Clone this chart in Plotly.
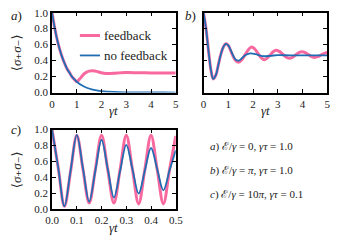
import plotly.graph_objects as go

# ---------------- data ----------------
# panel a
t_a_nf = [0, 0.1, 0.2, 0.3, 0.4, 0.5, 0.6, 0.7, 0.8, 0.9, 1.0, 1.2, 1.4, 1.6, 1.8, 2.0, 2.5, 3.0, 3.5, 4.0, 4.5, 5.0]
a_nofb = [1.0, 0.82, 0.67, 0.55, 0.45, 0.37, 0.30, 0.25, 0.20, 0.165, 0.135, 0.09, 0.06, 0.04, 0.027, 0.018, 0.007, 0.0025, 0.001, 0.0003, 0.0001, 0.0]
t_a_fb = [0, 0.1, 0.2, 0.3, 0.4, 0.5, 0.6, 0.7, 0.8, 0.9, 1.0, 1.1, 1.2, 1.3, 1.4, 1.5, 1.65, 1.8, 1.95, 2.1, 2.25, 2.5, 2.75, 3.0, 3.5, 4.0, 4.5, 5.0]
a_fb = [1.0, 0.82, 0.67, 0.55, 0.45, 0.37, 0.30, 0.25, 0.20, 0.165, 0.135, 0.165, 0.20, 0.235, 0.255, 0.268, 0.272, 0.265, 0.25, 0.24, 0.237, 0.24, 0.246, 0.25, 0.248, 0.246, 0.245, 0.245]

# panel b
t_b_nf = [0, 0.1, 0.2, 0.3, 0.39, 0.5, 0.6, 0.7, 0.8, 0.9, 1.0, 1.1, 1.2, 1.3, 1.42, 1.55, 1.7, 1.9, 2.1, 2.4, 2.7, 3.0, 3.5, 4.0, 4.5, 5.0]
b_nofb = [1.0, 0.80, 0.52, 0.28, 0.17, 0.22, 0.35, 0.48, 0.57, 0.61, 0.59, 0.53, 0.46, 0.41, 0.40, 0.43, 0.47, 0.49, 0.48, 0.455, 0.46, 0.468, 0.465, 0.465, 0.465, 0.465]
t_b_fb = [0, 0.1, 0.2, 0.3, 0.39, 0.5, 0.6, 0.7, 0.8, 0.9, 1.0, 1.1, 1.2, 1.3, 1.42, 1.55, 1.68, 1.82, 1.94, 2.07, 2.2, 2.33, 2.45, 2.57, 2.69, 2.81, 2.93, 3.06, 3.2, 3.33, 3.46, 3.59, 3.72, 3.85, 3.98, 4.11, 4.24, 4.37, 4.5, 4.62, 4.75, 4.88, 5.0]
b_fb = [1.0, 0.80, 0.52, 0.28, 0.17, 0.22, 0.35, 0.48, 0.57, 0.61, 0.59, 0.52, 0.45, 0.40, 0.38, 0.41, 0.475, 0.54, 0.57, 0.545, 0.49, 0.435, 0.41, 0.43, 0.47, 0.51, 0.53, 0.515, 0.48, 0.445, 0.43, 0.44, 0.47, 0.50, 0.51, 0.50, 0.475, 0.45, 0.44, 0.45, 0.47, 0.49, 0.50]

# panel c
t_c = [0, 0.025, 0.05, 0.075, 0.1, 0.125, 0.15, 0.175, 0.2, 0.225, 0.25, 0.275, 0.3, 0.325, 0.35, 0.375, 0.4, 0.425, 0.45, 0.475, 0.5]
c_fb = [1.0, 0.52, 0.04, 0.48, 0.93, 0.50, 0.08, 0.50, 0.93, 0.50, 0.08, 0.50, 0.93, 0.50, 0.07, 0.50, 0.93, 0.50, 0.07, 0.50, 0.92]
c_nofb = [1.0, 0.52, 0.04, 0.49, 0.93, 0.515, 0.10, 0.485, 0.87, 0.51, 0.15, 0.48, 0.81, 0.505, 0.20, 0.485, 0.77, 0.505, 0.24, 0.49, 0.74]

series_names = ["feedback", "no feedback"]
x_ticks_ab = [0, 1, 2, 3, 4, 5]
x_ticks_c = [0.0, 0.1, 0.2, 0.3, 0.4, 0.5]
x_ticklabels_c = ["0.0", "0.1", "0.2", "0.3", "0.4", "0.5"]
y_ticks = [0.0, 0.2, 0.4, 0.6, 0.8, 1.0]
y_ticklabels = ["0.0", "0.2", "0.4", "0.6", "0.8", "1.0"]

PINK = "#f7699f"
BLUE = "#1f6db3"
FONT = "Liberation Serif, DejaVu Serif, serif"
TXT = "#222"

W, H = 340, 244
fig = go.Figure()

def add(x, y, color, width, xa, ya, name=None):
    fig.add_trace(go.Scatter(x=x, y=y, mode="lines", line=dict(color=color, width=width, shape="spline", smoothing=1.0),
                             xaxis=xa, yaxis=ya, name=name, showlegend=False, hoverinfo="skip"))

add(t_a_fb, a_fb, PINK, 3, "x", "y", series_names[0])
add(t_a_nf, a_nofb, BLUE, 1.8, "x", "y", series_names[1])
add(t_b_fb, b_fb, PINK, 3, "x2", "y2", series_names[0])
add(t_b_nf, b_nofb, BLUE, 1.8, "x2", "y2", series_names[1])
add(t_c, c_fb, PINK, 3, "x3", "y3", series_names[0])
add(t_c, c_nofb, BLUE, 1.8, "x3", "y3", series_names[1])

def px(xp):
    return xp / W

def py(yp):
    return 1 - yp / H

axcommon = dict(showgrid=False, zeroline=False, showline=True, linecolor="black", linewidth=1.6,
                mirror="ticks", ticks="inside", ticklen=4, tickwidth=1, tickcolor="black",
                ticklabeloverflow="allow",
                tickfont=dict(family=FONT, size=11, color=TXT))

fig.update_layout(
    width=W, height=H, margin=dict(l=0, r=0, t=0, b=0),
    paper_bgcolor="white", plot_bgcolor="white", showlegend=False,
    xaxis=dict(domain=[px(47), px(176)], range=[0, 5], tickvals=x_ticks_ab, anchor="y", **axcommon),
    yaxis=dict(domain=[py(91), py(7)], range=[0, 1], tickvals=y_ticks, ticktext=y_ticklabels, anchor="x", **axcommon),
    xaxis2=dict(domain=[px(205), px(334)], range=[0, 5], tickvals=x_ticks_ab, anchor="y2", **axcommon),
    yaxis2=dict(domain=[py(91), py(7)], range=[0, 1], tickvals=y_ticks, showticklabels=False, anchor="x2", **axcommon),
    xaxis3=dict(domain=[px(47), px(176)], range=[0, 0.5], tickvals=x_ticks_c, ticktext=x_ticklabels_c, anchor="y3", **axcommon),
    yaxis3=dict(domain=[py(214), py(130)], range=[0, 1], tickvals=y_ticks, ticktext=y_ticklabels, anchor="x3", **axcommon),
)

# legend (drawn by hand to match the short line samples)
shapes = [
    dict(type="line", xref="paper", yref="paper", x0=px(76), x1=px(97), y0=py(31), y1=py(31),
         line=dict(color=PINK, width=3)),
    dict(type="line", xref="paper", yref="paper", x0=px(76), x1=px(97), y0=py(52), y1=py(52),
         line=dict(color=BLUE, width=1.8)),
]
fig.update_layout(shapes=shapes)

ann = []
def note(x, y, text, size=10, angle=0, xanchor="center", yanchor="middle"):
    ann.append(dict(x=px(x), y=py(y), xref="paper", yref="paper", text=text, showarrow=False,
                    font=dict(family=FONT, size=size, color=TXT), textangle=angle,
                    xanchor=xanchor, yanchor=yanchor))

note(99, 31, series_names[0], 13, xanchor="left")
note(99, 52, series_names[1], 13, xanchor="left")
ylab = "⟨<i>σ</i>₊<i>σ</i>₋⟩"
note(10, 49, ylab, 13, -90)
note(10, 172, ylab, 13, -90)
note(111, 110, "<i>γt</i>", 13)
note(270, 110, "<i>γt</i>", 13)
note(111, 233, "<i>γt</i>", 13)
note(2, 10, "<i>a</i>)", 13, xanchor="left")
note(184, 10, "<i>b</i>)", 13, xanchor="left")
note(2, 130, "<i>c</i>)", 13, xanchor="left")
note(210, 148, "<i>a</i>) ℰ/<i>γ</i> = 0, <i>γτ</i> = 1.0", 11, xanchor="left")
note(210, 173, "<i>b</i>) ℰ/<i>γ</i> = <i>π</i>, <i>γτ</i> = 1.0", 11, xanchor="left")
note(210, 198, "<i>c</i>) ℰ/<i>γ</i> = 10<i>π</i>, <i>γτ</i> = 0.1", 11, xanchor="left")
fig.update_layout(annotations=ann)

fig.write_html("out.html", config={"displayModeBar": False},
               post_script="document.body.style.margin='0';document.body.style.overflow='hidden';")
